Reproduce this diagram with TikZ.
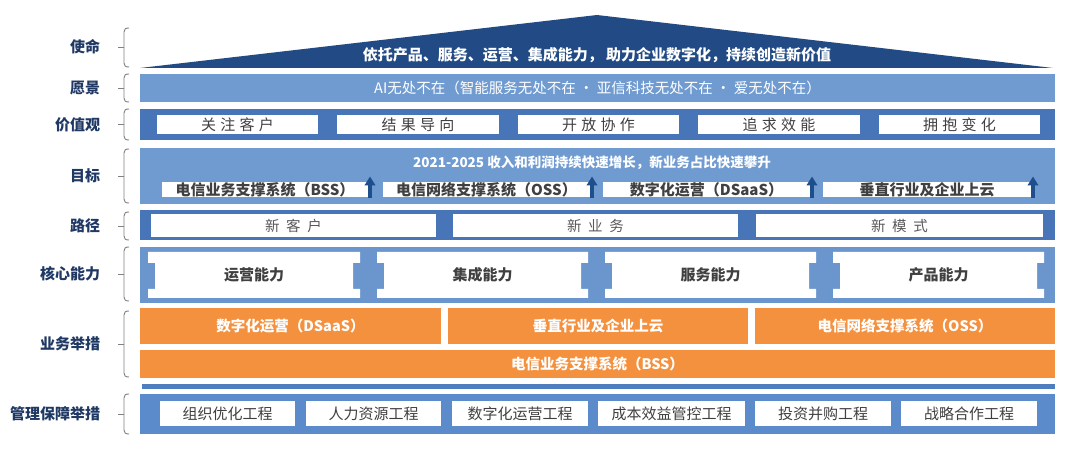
\documentclass[tikz,border=0pt]{standalone}
\usepackage{fontspec}
\setmainfont{Noto Sans CJK SC}
\usetikzlibrary{arrows.meta}
\definecolor{roofc}{HTML}{224B85}
\definecolor{lightbar}{HTML}{6F9BD1}
\definecolor{darkbar}{HTML}{4775B8}
\definecolor{corebar}{HTML}{6A96CD}
\definecolor{orangec}{HTML}{F4913F}
\definecolor{mgmtbar}{HTML}{5B8BCA}
\definecolor{linec}{HTML}{4F7EBE}
\definecolor{arrowc}{HTML}{1F4E8C}
\definecolor{navy}{HTML}{1F3864}
\definecolor{txtgray}{HTML}{404040}
\definecolor{pathgray}{HTML}{595959}
\definecolor{bracec}{HTML}{808080}
\newcommand\mybox[7]{\node[#6, minimum width={#4pt-#2pt}, minimum height={#5pt-#3pt}] (#1) at ({(#2+#4)/2},{(#3+#5)/2}) {#7};}
\newcommand\mybrace[3]{\draw[bracestyle] (129,#1) .. controls (125.5,#1) and (124,#1+1) .. (124,#1+4) -- (124,#2-4) .. controls (124,#2-1) and (125.5,#2) .. (129,#2);
\draw[bracestyle] (118,#3) -- (124,#3);}
\newcommand\notchbox[4]{\fill[white] (#1,252) -- (#2,252) -- (#2,263) -- (#2-7,263) -- (#2-7,289) -- (#2,289) -- (#2,298) -- (#1,298) -- (#1,289) -- (#1+7,289) -- (#1+7,263) -- (#1,263) -- cycle;
\node[coretext] (#3) at ({(#1+#2)/2},275) {#4};}
\newcommand\uparr[3]{\coordinate (#1s) at (#2,#3); \coordinate (#1e) at (#2,176.5);
\draw[arrowstyle] (#1s) -- (#1e);}
\begin{document}
\begin{tikzpicture}[x=1pt,y=-1pt,
  every node/.style={inner sep=0pt, outer sep=0pt},
  barbox/.style={fill=#1, draw=none},
  lbl/.style={anchor=east, font=\fontsize{15}{18}\selectfont\bfseries, text=navy},
  bracestyle/.style={draw=bracec, line width=0.9pt},
  valtext/.style={fill=white, font=\fontsize{15}{18}\selectfont, text=txtgray},
  pathtext/.style={fill=white, font=\fontsize{14.5}{18}\selectfont, text=pathgray},
  goaltext/.style={fill=white, font=\fontsize{15}{18}\selectfont\bfseries, text=txtgray},
  coretext/.style={font=\fontsize{15}{18}\selectfont\bfseries, text=txtgray},
  orangebox/.style={fill=orangec, font=\fontsize{14.5}{18}\selectfont\bfseries, text=white},
  mgmttext/.style={fill=white, font=\fontsize{15}{18}\selectfont, text=txtgray},
  arrowstyle/.style={draw=arrowc, line width=3.5pt, -{Triangle[width=10.5pt,length=9pt]}}
]
\useasboundingbox (0,0) rectangle (1080,454);
\fill[white] (0,0) rectangle (1080,454);

% roof
\fill[roofc] (140,68) -- (597,15) -- (1053,68) -- cycle;
\node[font=\fontsize{15}{18}\selectfont\bfseries, text=white] (mission) at (597,55) {依托产品、服务、运营、集成能力， 助力企业数字化，持续创造新价值};

% vision
\mybox{vision}{140}{74}{1055}{102}{barbox=lightbar, font=\fontsize{14.5}{18}\selectfont, text=white}{AI无处不在（智能服务无处不在 · 亚信科技无处不在 · 爱无处不在）}

% values
\mybox{valbar}{140}{109}{1055}{140}{barbox=darkbar}{}
\mybox{v1}{157}{115}{318}{134}{valtext}{关\hspace{0.28em}注\hspace{0.28em}客\hspace{0.28em}户}
\mybox{v2}{337}{115}{499}{134}{valtext}{结\hspace{0.28em}果\hspace{0.28em}导\hspace{0.28em}向}
\mybox{v3}{518}{115}{679}{134}{valtext}{开\hspace{0.28em}放\hspace{0.28em}协\hspace{0.28em}作}
\mybox{v4}{698}{115}{860}{134}{valtext}{追\hspace{0.28em}求\hspace{0.28em}效\hspace{0.28em}能}
\mybox{v5}{879}{115}{1040}{134}{valtext}{拥\hspace{0.28em}抱\hspace{0.28em}变\hspace{0.28em}化}

% goals
\mybox{goalbar}{140}{148}{1055}{204}{barbox=lightbar}{}
\node[font=\fontsize{13.5}{16}\selectfont\bfseries, text=white] (goaltitle) at (592,163) {2021-2025 收入和利润持续快速增长，新业务占比快速攀升};
\mybox{g1}{162}{182}{368}{197}{goaltext}{电信业务支撑系统（BSS）}
\mybox{g2}{383}{182}{590}{197}{goaltext}{电信网络支撑系统（OSS）}
\mybox{g3}{603}{182}{810}{197}{goaltext}{数字化运营（DSaaS）}
\mybox{g4}{823}{182}{1031}{197}{goaltext}{垂直行业及企业上云}
\uparr{a1}{370}{198}
\uparr{a2}{592}{198}
\uparr{a3}{812}{198}
\uparr{a4}{1033}{198}

% paths
\mybox{pathbar}{140}{210}{1055}{240}{barbox=darkbar}{}
\mybox{p1}{151}{214}{436}{237}{pathtext}{新\hspace{0.45em}客\hspace{0.45em}户}
\mybox{p2}{453}{214}{738}{237}{pathtext}{新\hspace{0.45em}业\hspace{0.45em}务}
\mybox{p3}{756}{214}{1043}{237}{pathtext}{新\hspace{0.45em}模\hspace{0.45em}式}

% core capabilities
\mybox{corebg}{140}{247}{1055}{303}{barbox=corebar}{}
\notchbox{148}{360}{c1}{运营能力}
\notchbox{377}{588}{c2}{集成能力}
\notchbox{605}{816}{c3}{服务能力}
\notchbox{833}{1044}{c4}{产品能力}

% business measures
\mybox{b1}{140}{308}{441}{344}{orangebox}{数字化运营（DSaaS）}
\mybox{b2}{448}{308}{748}{344}{orangebox}{垂直行业及企业上云}
\mybox{b3}{755}{308}{1055}{344}{orangebox}{电信网络支撑系统（OSS）}
\mybox{b4}{140}{350}{1055}{378}{orangebox}{电信业务支撑系统（BSS）}

% thin line
\mybox{sepline}{142}{384}{1055}{389}{barbox=linec}{}

% management
\mybox{mgmtbg}{140}{394}{1055}{434}{barbox=mgmtbar}{}
\mybox{m1}{160}{401}{295}{426}{mgmttext}{组织优化工程}
\mybox{m2}{306}{401}{441}{426}{mgmttext}{人力资源工程}
\mybox{m3}{452}{401}{588}{426}{mgmttext}{数字化运营工程}
\mybox{m4}{598}{401}{745}{426}{mgmttext}{成本效益管控工程}
\mybox{m5}{755}{401}{891}{426}{mgmttext}{投资并购工程}
\mybox{m6}{901}{401}{1037}{426}{mgmttext}{战略合作工程}

% labels and braces
\node[lbl] (l1) at (100,47) {使命};
\node[lbl] (l2) at (100,88) {愿景};
\node[lbl] (l3) at (100,124.5) {价值观};
\node[lbl] (l4) at (100,176) {目标};
\node[lbl] (l5) at (100,226) {路径};
\node[lbl] (l6) at (100,274) {核心能力};
\node[lbl] (l7) at (100,344) {业务举措};
\node[lbl] (l8) at (100,414) {管理保障举措};
\mybrace{28}{67}{47.5}
\mybrace{74}{102}{88}
\mybrace{109}{140}{124.5}
\mybrace{149}{203}{176}
\mybrace{212}{240}{226}
\mybrace{247}{301}{274}
\mybrace{311}{377}{344}
\mybrace{394}{434}{414}
\end{tikzpicture}
\end{document}
